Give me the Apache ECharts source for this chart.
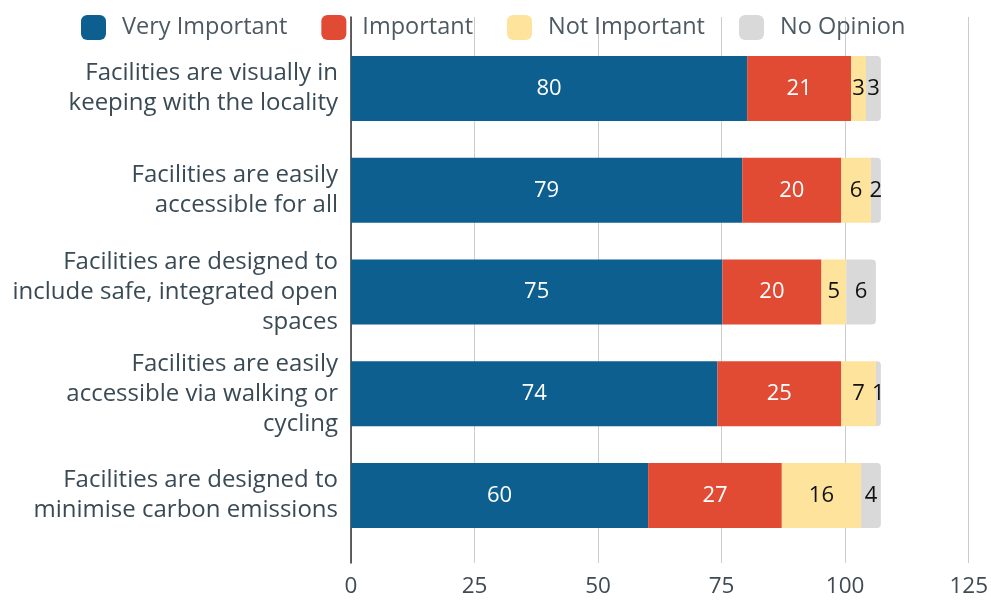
<!DOCTYPE html>
<html>
<head>
<meta charset="utf-8">
<script src="https://cdn.jsdelivr.net/npm/echarts@6/dist/echarts.min.js"></script>
<style>
  html, body { margin: 0; padding: 0; background: #fff; }
  #chart { width: 991px; height: 600px; }
</style>
</head>
<body>
<div id="chart"></div>
<script>
// Survey statements (top to bottom)
const categories = [
  'Facilities are visually in\nkeeping with the locality',
  'Facilities are easily\naccessible for all',
  'Facilities are designed to\ninclude safe, integrated open\nspaces',
  'Facilities are easily\naccessible via walking or\ncycling',
  'Facilities are designed to\nminimise carbon emissions'
];

// Response counts per statement
const veryImportant = [80, 79, 75, 74, 60];
const important     = [21, 20, 20, 25, 27];
const notImportant  = [3, 6, 5, 7, 16];
const noOpinion     = [3, 2, 6, 1, 4];

const seriesNames = ['Very Important', 'Important', 'Not Important', 'No Opinion'];
const xTicks = [0, 25, 50, 75, 100, 125];

const FONT = '"Open Sans", Roboto, sans-serif';
const colors = ['#0d5f8f', '#e14b34', '#fde39b', '#d9d9d9'];
const labelColors = ['#ffffff', '#ffffff', '#111111', '#111111'];

const chart = echarts.init(document.getElementById('chart'), null, { renderer: 'canvas' });

function makeSeries(name, data, idx) {
  return {
    name: name,
    type: 'bar',
    stack: 'total',
    xAxisIndex: 1,
    yAxisIndex: 1,
    barWidth: 65,
    data: data,
    itemStyle: {
      color: colors[idx],
      borderRadius: idx === 3 ? [0, 4, 4, 0] : 0
    },
    label: {
      show: true,
      position: 'inside',
      color: labelColors[idx],
      fontFamily: FONT,
      fontSize: 22
    },
    emphasis: { disabled: true }
  };
}

chart.setOption({
  animation: false,
  textStyle: { fontFamily: FONT },
  color: colors,
  legend: {
    left: 76,
    top: 10,
    icon: 'roundRect',
    itemWidth: 25,
    itemHeight: 25,
    itemGap: 34,
    textStyle: {
      fontFamily: FONT,
      fontSize: 23.5,
      color: '#4d5a62',
      padding: [0, 0, 0, 11]
    },
    data: seriesNames
  },
  grid: [
    { left: 351, right: 21, top: 17, bottom: 37 },
    { left: 351, right: 21, top: 37.6, bottom: 53.6 }
  ],
  xAxis: [
    {
      gridIndex: 0,
      type: 'value',
      min: xTicks[0],
      max: xTicks[xTicks.length - 1],
      interval: 25,
      axisLine: { show: false },
      axisTick: { show: false },
      splitLine: { show: true, lineStyle: { color: '#cccccc', width: 1 } },
      axisLabel: {
        fontFamily: FONT,
        fontSize: 22.5,
        color: '#3f4b53',
        margin: 12
      }
    },
    {
      gridIndex: 1,
      type: 'value',
      min: xTicks[0],
      max: xTicks[xTicks.length - 1],
      show: false
    }
  ],
  yAxis: [
    {
      gridIndex: 0,
      type: 'value',
      axisLine: { show: true, lineStyle: { color: '#333333', width: 1.5 } },
      axisTick: { show: false },
      axisLabel: { show: false },
      splitLine: { show: false }
    },
    {
      gridIndex: 1,
      type: 'category',
      inverse: true,
      data: categories,
      axisLine: { show: false },
      axisTick: { show: false },
      axisLabel: {
        fontFamily: FONT,
        fontSize: 24,
        lineHeight: 30,
        color: '#3a4a54',
        margin: 13,
        align: 'right'
      }
    }
  ],
  series: [
    makeSeries(seriesNames[0], veryImportant, 0),
    makeSeries(seriesNames[1], important, 1),
    makeSeries(seriesNames[2], notImportant, 2),
    makeSeries(seriesNames[3], noOpinion, 3)
  ]
});
</script>
</body>
</html>
